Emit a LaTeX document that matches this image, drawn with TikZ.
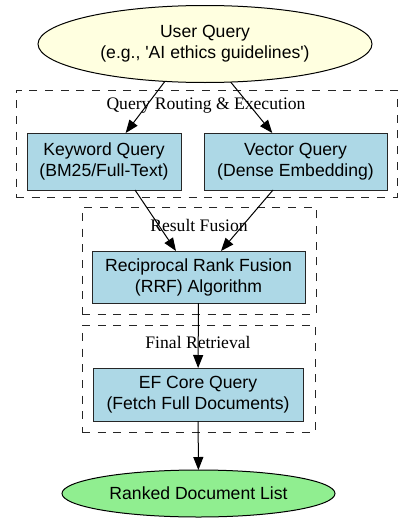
\documentclass[tikz,border=0pt]{standalone}
\usepackage{fontspec}
\setmainfont{Liberation Serif}
\newfontfamily\nodefont{Liberation Sans}
\usetikzlibrary{arrows.meta,shapes.geometric}
\definecolor{lyellow}{HTML}{FFFFE0}
\definecolor{lblue}{HTML}{ADD8E6}
\definecolor{lgreen}{HTML}{90EE90}
\begin{document}
\begin{tikzpicture}[x=1pt,y=-1pt,
  every node/.style={inner sep=0pt, outer sep=0pt},
  txt/.style={font=\nodefont\fontsize{17.6}{21}\selectfont, align=center, text=black},
  ell/.style={txt, ellipse, draw=black, line width=1pt},
  procbox/.style={txt, rectangle, draw=black!85, line width=1pt, fill=lblue},
  cluster/.style={rectangle, draw=black!85, line width=1pt, dash pattern=on 8pt off 7.7pt},
  cllabel/.style={font=\fontsize{17.6}{21}\selectfont, text=black},
  conn/.style={draw=black, line width=1pt, -{Triangle[length=13pt,width=10pt]}}
]
\useasboundingbox (0,0) rectangle (413,522);
% clusters
\node[cluster, minimum width=381pt, minimum height=107pt] (c1) at (206.5,143.5) {};
\node[cllabel] (l1) at (206,106) {Query Routing \& Execution};
\node[cluster, minimum width=234pt, minimum height=107pt] (c2) at (199,260.5) {};
\node[cllabel] (l2) at (199,225) {Result Fusion};
\node[cluster, minimum width=233pt, minimum height=107pt] (c3) at (198.5,378.5) {};
\node[cllabel] (l3) at (198,342) {Final Retrieval};
% nodes
\node[ell, fill=lyellow, minimum width=334pt, minimum height=77pt] (user) at (205,44)
  {User Query\\(e.g., 'AI ethics guidelines')};
\node[procbox, minimum width=154pt, minimum height=57pt] (kw) at (104,161.5)
  {Keyword Query\\(BM25/Full-Text)};
\node[procbox, minimum width=183pt, minimum height=57pt] (vec) at (295.5,161.5)
  {Vector Query\\(Dense Embedding)};
\node[procbox, minimum width=213pt, minimum height=52pt] (rrf) at (198.5,277)
  {Reciprocal Rank Fusion\\(RRF) Algorithm};
\node[procbox, minimum width=210pt, minimum height=53pt] (ef) at (198,394.5)
  {EF Core Query\\(Fetch Full Documents)};
\node[ell, fill=lgreen, minimum width=273pt, minimum height=47pt] (out) at (198.5,493.5)
  {Ranked Document List};
% connectors
\draw[conn] (user.223) -- (kw);
\draw[conn] (user.304) -- (vec);
\draw[conn] ([xshift=31pt]kw.south) -- ([xshift=-22.5pt]rrf.north);
\draw[conn] ([xshift=-22.5pt]vec.south) -- ([xshift=22.5pt]rrf.north);
\draw[conn] (rrf) -- (ef);
\draw[conn] (ef) -- (out);
\end{tikzpicture}
\end{document}
